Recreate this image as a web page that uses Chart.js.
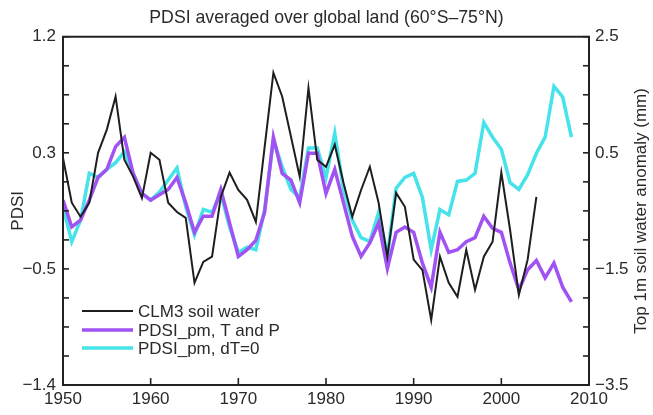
<!DOCTYPE html>
<html>
<head>
<meta charset="utf-8">
<script src="https://cdn.jsdelivr.net/npm/chart.js@4.4.1/dist/chart.umd.min.js"></script>
<style>
html,body{margin:0;padding:0;background:#fff;}
#wrap{width:653px;height:415px;position:relative;}
</style>
</head>
<body>
<div id="wrap"><canvas id="c" width="653" height="415"></canvas></div>
<script>
// ---- data ----
const years = [1950,1951,1952,1953,1954,1955,1956,1957,1958,1959,
               1960,1961,1962,1963,1964,1965,1966,1967,1968,1969,
               1970,1971,1972,1973,1974,1975,1976,1977,1978,1979,
               1980,1981,1982,1983,1984,1985,1986,1987,1988,1989,
               1990,1991,1992,1993,1994,1995,1996,1997,1998,1999,
               2000,2001,2002,2003,2004,2005,2006,2007,2008];

// CLM3 top 1m soil water anomaly (mm), right axis, 1950-2004
const clm3SoilWater = [0.41,-0.36,-0.60,-0.36,0.50,0.90,1.47,0.38,0.09,-0.28,
                       0.50,0.38,-0.36,-0.52,-0.62,-1.74,-1.38,-1.29,-0.26,0.16,
                       -0.14,-0.31,-0.69,0.60,1.88,1.47,0.78,0.09,1.62,0.38,
                       0.26,0.64,-0.02,-0.60,-0.14,0.26,-0.36,-1.29,-0.19,-0.43,
                       -1.34,-1.52,-2.38,-1.29,-1.74,-1.98,-1.17,-1.86,-1.29,-1.03,
                       0.16,-0.83,-1.95,-1.34,-0.26];

// PDSI_pm, T and P (left axis)
const pdsiTandP = [-0.02,-0.22,-0.17,-0.02,0.15,0.21,0.38,0.45,0.18,0.03,
                   -0.02,0.02,0.06,0.15,-0.04,-0.26,-0.14,-0.14,0.06,-0.19,
                   -0.44,-0.39,-0.32,-0.11,0.45,0.18,0.13,-0.04,0.33,0.33,
                   0.03,0.21,-0.04,-0.29,-0.44,-0.34,-0.19,-0.53,-0.26,-0.22,
                   -0.26,-0.49,-0.67,-0.26,-0.41,-0.39,-0.33,-0.30,-0.14,-0.23,
                   -0.26,-0.49,-0.69,-0.54,-0.47,-0.60,-0.49,-0.67,-0.78];

// PDSI_pm, dT=0 (left axis)
const pdsiDT0 = [-0.07,-0.33,-0.17,0.18,0.15,0.21,0.26,0.34,0.18,0.03,
                 -0.02,0.04,0.13,0.22,-0.07,-0.28,-0.09,-0.11,0.03,-0.22,
                 -0.41,-0.37,-0.39,-0.09,0.43,0.23,0.06,0.00,0.37,0.37,
                 0.15,0.48,0.06,-0.17,-0.30,-0.33,-0.11,-0.44,0.07,0.15,
                 0.18,0.00,-0.39,-0.09,-0.13,0.12,0.13,0.18,0.56,0.45,
                 0.36,0.11,0.06,0.17,0.33,0.45,0.83,0.75,0.45];

const seriesNames = ['CLM3 soil water','PDSI_pm, T and P','PDSI_pm, dT=0'];
const xTickLabels = ['1950','1960','1970','1980','1990','2000','2010'];
const leftTickLabels = ['\u22121.4','\u22120.5','0.3','1.2'];
const rightTickLabels = ['\u22123.5','\u22121.5','0.5','2.5'];
const titleText = 'PDSI averaged over global land (60\u00b0S\u201375\u00b0N)';
const leftAxisTitle = 'PDSI';
const rightAxisTitle = 'Top 1m soil water anomaly (mm)';

// ---- styling ----
const FONT = "'Liberation Sans', Arial, sans-serif";
const TXT = '#2a2a2a';
const FRAME = '#222';

function pts(vals){ return vals.map((v,i)=>({x:years[i], y:v})); }

const framePlugin = {
  id:'frame',
  afterDatasetsDraw(chart){
    const ctx = chart.ctx, a = chart.chartArea;
    ctx.save();
    ctx.strokeStyle = FRAME;
    // inward tick marks
    ctx.lineWidth = 1.6;
    const xs = chart.scales.x;
    xs.ticks.forEach(t=>{
      const px = xs.getPixelForValue(t.value);
      if (px <= a.left+1 || px >= a.right-1) return;
      ctx.beginPath(); ctx.moveTo(px, a.bottom); ctx.lineTo(px, a.bottom-7); ctx.stroke();
    });
    const yl = chart.scales.y;
    yl.ticks.forEach(t=>{
      const py = yl.getPixelForValue(t.value);
      ctx.beginPath(); ctx.moveTo(a.left, py); ctx.lineTo(a.left+6, py); ctx.stroke();
    });
    const yr = chart.scales.y2;
    yr.ticks.forEach(t=>{
      const py = yr.getPixelForValue(t.value);
      ctx.beginPath(); ctx.moveTo(a.right, py); ctx.lineTo(a.right-6, py); ctx.stroke();
    });
    // frame
    ctx.lineWidth = 2;
    ctx.strokeRect(a.left, a.top, a.right-a.left, a.bottom-a.top);
    // legend
    const ds = chart.data.datasets;
    const lx0 = 82, lx1 = 133, tx = 138;
    const rows = [311, 330, 348];
    ctx.font = '17px ' + FONT;
    ctx.textBaseline = 'middle';
    ctx.textAlign = 'left';
    ds.forEach((d,i)=>{
      ctx.strokeStyle = d.borderColor;
      ctx.lineWidth = d.borderWidth;
      ctx.beginPath(); ctx.moveTo(lx0, rows[i]); ctx.lineTo(lx1, rows[i]); ctx.stroke();
      ctx.fillStyle = TXT;
      ctx.fillText(d.label, tx, rows[i]+1);
    });
    // right axis title (reads bottom-to-top)
    ctx.save();
    ctx.translate(641, (a.top+a.bottom)/2);
    ctx.rotate(-Math.PI/2);
    ctx.textAlign = 'center';
    ctx.textBaseline = 'middle';
    ctx.fillStyle = TXT;
    ctx.fillText(rightAxisTitle, 0, 0);
    ctx.restore();
    ctx.restore();
  }
};

const LMIN = -1.4, LMAX = 1.2;

new Chart(document.getElementById('c'), {
  type:'line',
  data:{
    datasets:[
      {label:seriesNames[0], data:pts(clm3SoilWater), yAxisID:'y2',
       borderColor:'#1e1e1e', borderWidth:2, pointRadius:0, tension:0, fill:false},
      {label:seriesNames[1], data:pts(pdsiTandP), yAxisID:'y',
       borderColor:'#a052f2', borderWidth:3.5, pointRadius:0, tension:0, fill:false},
      {label:seriesNames[2], data:pts(pdsiDT0), yAxisID:'y',
       borderColor:'#46e3ea', borderWidth:3.5, pointRadius:0, tension:0, fill:false}
    ]
  },
  options:{
    responsive:false,
    devicePixelRatio:1,
    animation:false,
    events:[],
    layout:{padding:0},
    plugins:{
      legend:{display:false},
      tooltip:{enabled:false},
      title:{display:true, text:titleText, color:TXT,
             font:{family:FONT, size:17.7, weight:'normal'},
             padding:{top:7.5, bottom:8}}
    },
    scales:{
      x:{type:'linear', position:'bottom', min:1950, max:2010,
         grid:{display:false, drawTicks:false}, border:{display:false},
         ticks:{stepSize:10, padding:4, color:TXT, maxRotation:0, autoSkip:false,
                font:{family:FONT, size:17},
                callback:(v,i)=>xTickLabels[i]},
         afterFit:s=>{ s.height = 30; }},
      y:{type:'linear', position:'left', min:LMIN, max:LMAX,
         grid:{display:false, drawTicks:false}, border:{display:false},
         afterBuildTicks:s=>{
           const n = 12, arr = [];
           for (let k=0;k<=n;k++) arr.push({value: LMIN + (LMAX-LMIN)*k/n});
           s.ticks = arr;
         },
         ticks:{padding:7, color:TXT, autoSkip:false, font:{family:FONT, size:17},
                callback:(v,i)=> (i%4===0 ? leftTickLabels[i/4] : '')},
         title:{display:true, text:leftAxisTitle, color:TXT,
                font:{family:FONT, size:17}, padding:{top:8, bottom:0}},
         afterFit:s=>{ s.width = 63; }},
      y2:{type:'linear', position:'right', min:-3.5, max:2.5,
         grid:{display:false, drawTicks:false}, border:{display:false},
         afterBuildTicks:s=>{
           const arr = [];
           for (let k=0;k<=12;k++) arr.push({value: -3.5 + 0.5*k});
           s.ticks = arr;
         },
         ticks:{padding:6, color:TXT, autoSkip:false, font:{family:FONT, size:17},
                callback:(v,i)=> (i%4===0 ? rightTickLabels[i/4] : '')},
         afterFit:s=>{ s.width = 64; }}
    }
  },
  plugins:[framePlugin]
});
</script>
</body>
</html>
